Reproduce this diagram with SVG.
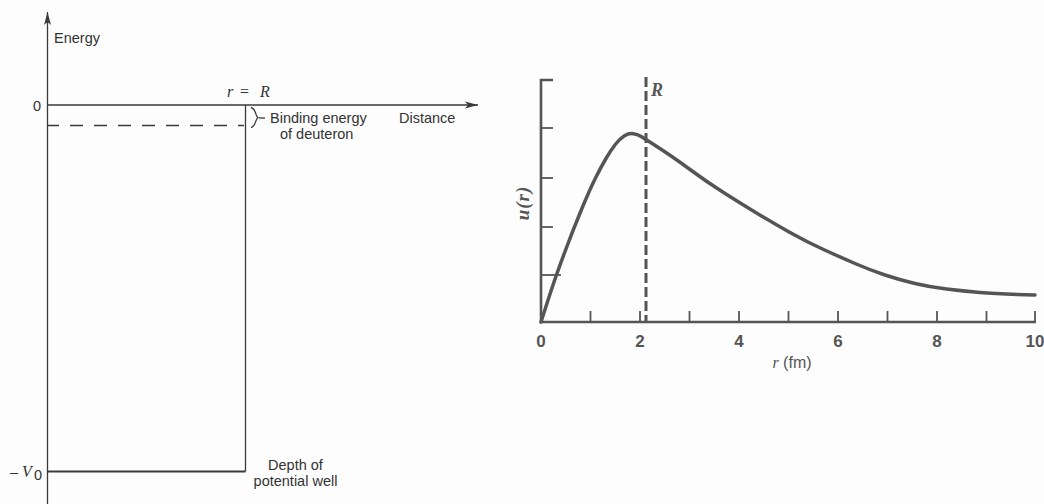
<svg xmlns="http://www.w3.org/2000/svg" width="1044" height="504" viewBox="0 0 1044 504">
<defs>
<marker id="arr" markerUnits="userSpaceOnUse" markerWidth="14" markerHeight="8" refX="13" refY="4" orient="auto">
<path d="M0,0.5 L13,4 L0,7.5 L3,4 z" fill="#3a3a3a"/>
</marker>
<style>
.ln{stroke:#3a3a3a;stroke-width:1.3;fill:none}
.lbl{font-family:"Liberation Sans",Arial,sans-serif;font-size:14.5px;fill:#333}
.ser{font-family:"Liberation Serif","Times New Roman",serif;font-style:italic;fill:#333}
.ax{stroke:#555;stroke-width:2.6;fill:none}
.tk{stroke:#555;stroke-width:1.8}
.num{font-family:"Liberation Sans",Arial,sans-serif;font-weight:bold;font-size:17px;fill:#555;text-anchor:middle}
</style>
</defs>
<rect width="1044" height="504" fill="#fdfdfd"/>

<!-- Left: potential well -->
<g id="well-axes">
<line class="ln" x1="47.5" y1="504" x2="47.5" y2="12" marker-end="url(#arr)"/>
<line class="ln" x1="47.5" y1="105" x2="478" y2="105" marker-end="url(#arr)"/>
</g>
<g id="well">
<line class="ln" x1="245.5" y1="105" x2="245.5" y2="471.5"/>
<line class="ln" x1="47.5" y1="471.5" x2="245.5" y2="471.5" style="stroke-width:2"/>
<line class="ln" x1="48" y1="125.5" x2="244" y2="125.5" stroke-dasharray="13 11" stroke-dashoffset="2"/>
</g>
<g id="well-labels">
<text class="lbl" x="54" y="43">Energy</text>
<text class="lbl" x="33" y="110.5">0</text>
<text class="ser" font-size="16" y="97"><tspan x="227">r</tspan><tspan x="240" font-style="normal">=</tspan><tspan x="260">R</tspan></text>
<path class="ln" d="M251,107.5 C256.5,109 255,116 258,117.5 C255,119 256.5,126 251,127.5"/>
<line class="ln" x1="259" y1="118" x2="265" y2="118"/>
<text class="lbl" x="270" y="123">Binding energy</text>
<text class="lbl" x="280" y="138.5">of deuteron</text>
<text class="lbl" x="399" y="123">Distance</text>
<text class="lbl" x="10" y="477">–</text>
<text class="ser" font-size="16" x="22" y="477">V</text>
<text class="lbl" x="34" y="480" font-size="11px">0</text>
<text class="lbl" x="295.5" y="470" text-anchor="middle">Depth of</text>
<text class="lbl" x="295.5" y="485.5" text-anchor="middle">potential well</text>
</g>

<!-- Right: wave function -->
<g id="u-axes">
<polyline class="ax" points="553,80 541,80 541,322 1036,322"/>
<line class="tk" x1="541" y1="128" x2="553" y2="128"/>
<line class="tk" x1="541" y1="178" x2="553" y2="178"/>
<line class="tk" x1="541" y1="227" x2="553" y2="227"/>
<line class="tk" x1="541" y1="275" x2="561" y2="275"/>
<g class="tk">
<line x1="590.5" y1="322" x2="590.5" y2="311"/>
<line x1="640" y1="322" x2="640" y2="311"/>
<line x1="689.5" y1="322" x2="689.5" y2="311"/>
<line x1="739" y1="322" x2="739" y2="311"/>
<line x1="788.5" y1="322" x2="788.5" y2="311"/>
<line x1="838" y1="322" x2="838" y2="311"/>
<line x1="887.5" y1="322" x2="887.5" y2="311"/>
<line x1="937" y1="322" x2="937" y2="311"/>
<line x1="986.5" y1="322" x2="986.5" y2="311"/>
<line x1="1035" y1="322" x2="1035" y2="311"/>
</g>
<text class="num" x="541" y="347">0</text>
<text class="num" x="640" y="347">2</text>
<text class="num" x="739" y="347">4</text>
<text class="num" x="838" y="347">6</text>
<text class="num" x="937" y="347">8</text>
<text class="num" x="1035" y="347">10</text>
<text x="792" y="368" font-family="Liberation Sans,Arial,sans-serif" font-size="16" fill="#555" text-anchor="middle"><tspan font-family="Liberation Serif,serif" font-style="italic">r</tspan> (fm)</text>
<text transform="translate(529,203) rotate(-90)" font-family="Liberation Serif,serif" font-style="italic" font-weight="bold" font-size="19" letter-spacing="1" fill="#555" text-anchor="middle">u(r)</text>
</g>
<g id="range-R">
<line x1="646" y1="77" x2="646" y2="322" stroke="#555" stroke-width="3" stroke-dasharray="10 4"/>
<text x="651" y="96" font-family="Liberation Serif,serif" font-style="italic" font-weight="bold" font-size="18" fill="#555">R</text>
</g>
<g id="u-curve">
<path d="M541,322 Q549,297 553,285 Q557,273 565,251.5 Q573,230 581.5,209.5 Q590,189 595.5,178 Q601,167 606,158.5 Q611,150 615.5,144.25 Q620,138.5 624.5,135.75 Q629,133 633.5,133.75 Q638,134.5 642,137 Q646,139.5 659.5,148.25 Q673,157 690,169.5 Q707,182 723.5,192.5 Q740,203 756.5,213 Q773,223 790,232.5 Q807,242 823.5,249.5 Q840,257 855,263.5 Q870,270 885,275 Q900,280 915,283.5 Q930,287 946.5,289 Q963,291 980,292.5 Q997,294 1035,295" fill="none" stroke="#555" stroke-width="3.5" stroke-linecap="round" stroke-linejoin="round"/>
</g>
</svg>
